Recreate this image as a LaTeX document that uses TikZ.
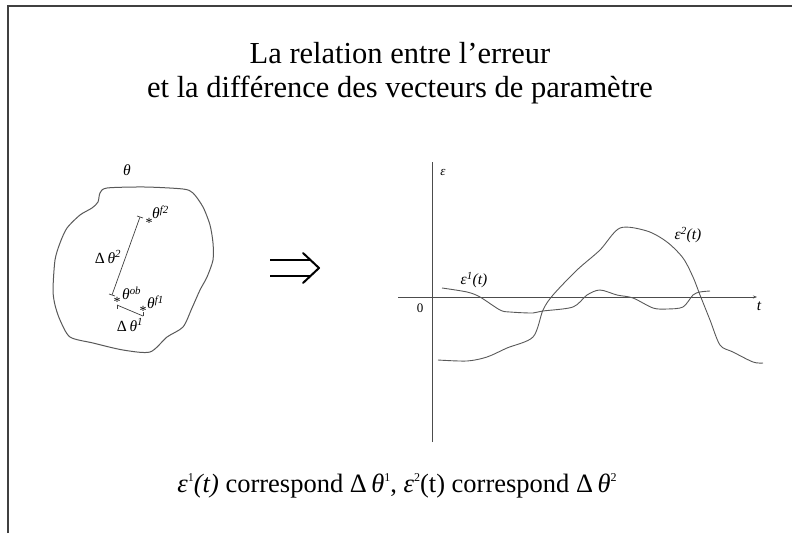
\documentclass[tikz,border=0pt]{standalone}
\usepackage{fontspec}
\setmainfont{Liberation Serif}
\usetikzlibrary{calc,arrows.meta}
\newcommand\sps[1]{\textsuperscript{#1}}
\newcommand\tinysup[1]{\raisebox{0.9ex}{\fontsize{12}{12}\selectfont #1}}
\begin{document}
\begin{tikzpicture}[x=1pt,y=-1pt,
  frame/.style={draw=black!75,line width=1.2pt},
  curve/.style={draw=black!65,line width=0.9pt},
  axis/.style={draw=black!70,line width=0.9pt},
  lbl/.style={inner sep=0pt,font=\fontsize{15.5}{17}\selectfont\itshape},
  star/.style={inner sep=0pt,font=\fontsize{14}{14}\selectfont},
  tick/.style={draw=black!75,line width=0.7pt},
  implies/.style={draw=black,line width=2pt}]
\useasboundingbox (0,0) rectangle (792,533);
% frame
\draw[frame] (8,533) -- (8,6) -- (792,6);
% title
\node[anchor=base,inner sep=0pt,font=\fontsize{30.5}{35}\selectfont] (title1) at (400,63)
  {La relation entre l’erreur};
\node[anchor=base,inner sep=0pt,font=\fontsize{30.5}{35}\selectfont] (title2) at (400,97)
  {et la différence des vecteurs de paramètre};
% blob
\draw[curve,line width=1pt] plot[smooth cycle,tension=0.45] coordinates {
 (107,188) (145,187) (183,189) (193,193) (203,207) (210,225) (213,243) (213,260) (207,277)
 (200,290) (192,308) (183,327) (167,337) (150,352) (123,350) (93,343) (70,337)
 (60,320) (55,305) (53,290) (55,260) (60,243) (67,228) (80,215) (92,208) (98,202) (100,193)};
\node[lbl] (theta) at (127,170) {θ};
% points
\coordinate (f2) at (140,217);
\coordinate (ob) at (112,295);
\coordinate (ob1) at (117,305);
\coordinate (f1) at (143,316);
\draw[tick] (f2) -- (ob);
\draw[tick] (ob1) -- (f1);
\draw[tick] ($(f2)+(-3,-1)$) -- ($(f2)+(3,1)$);
\draw[tick] ($(ob)+(-3,-1)$) -- ($(ob)+(3,1)$);
\draw[tick] (ob1) -- ++(0,4);
\draw[tick] (f1) -- ++(0,-4);
\node[star] (s2) at (149,223) {*};
\node[lbl,anchor=west] (lf2) at (152,212) {θ\sps{f2}};
\node[star] (so) at (117,302) {*};
\node[lbl,anchor=west] (lob) at (122,293) {θ\sps{ob}};
\node[star] (s1) at (143,311) {*};
\node[lbl,anchor=west] (lf1) at (147,302) {θ\sps{f1}};
\node[lbl] (d2) at (108,257) {\upshape Δ\,\itshape θ\sps{2}};
\node[lbl] (d1) at (130,325) {\upshape Δ\,\itshape θ\sps{1}};
% implication arrow
\draw[implies] (270,260) -- (311,260);
\draw[implies] (270,276) -- (311,276);
\draw[implies,line cap=round,line join=round] (303,253) -- (319,268) -- (303,283);
% axes
\coordinate (ytop) at (432,162);
\coordinate (ybot) at (432,442);
\coordinate (xl) at (398,297);
\coordinate (xr) at (757,297);
\draw[axis] (ybot) -- (ytop);
\draw[axis,-{Stealth[length=4pt,width=3pt]}] (xl) -- (xr);
\node[lbl,font=\fontsize{13}{15}\selectfont\itshape] (eps) at (443,172) {ε};
\node[lbl] (tl) at (759,306) {t};
\node[inner sep=0pt,font=\fontsize{13}{15}\selectfont] (zero) at (420,308) {0};
% eps1
\draw[curve] plot[smooth,tension=0.5] coordinates {
 (442,288) (467,292) (480,297) (500,310) (510,312) (533,313) (543,311) (573,307)
 (587,295) (600,290) (617,295) (633,298) (653,308) (667,309) (683,307) (693,295)
 (700,292) (710,291)};
% eps2
\draw[curve] plot[smooth,tension=0.5] coordinates {
 (438,360) (467,361) (487,357) (507,348) (533,337) (543,310) (553,295) (577,270)
 (600,250) (620,228) (647,231) (667,242) (683,258) (693,277) (700,295) (710,320)
 (720,345) (733,352) (753,362) (763,363)};
\node[lbl] (e1) at (474,280) {ε\sps{1}(t)};
\node[lbl] (e2) at (688,235) {ε\sps{2}(t)};
% bottom caption
\node[anchor=base,inner sep=0pt,font=\fontsize{26.5}{30}\selectfont] (cap) at (397,492)
 {\textit{ε}\tinysup{1}\textit{(t)} correspond Δ\,\textit{θ}\tinysup{1}, \textit{ε}\tinysup{2}(t) correspond Δ\,\textit{θ}\tinysup{2}};
\end{tikzpicture}
\end{document}
